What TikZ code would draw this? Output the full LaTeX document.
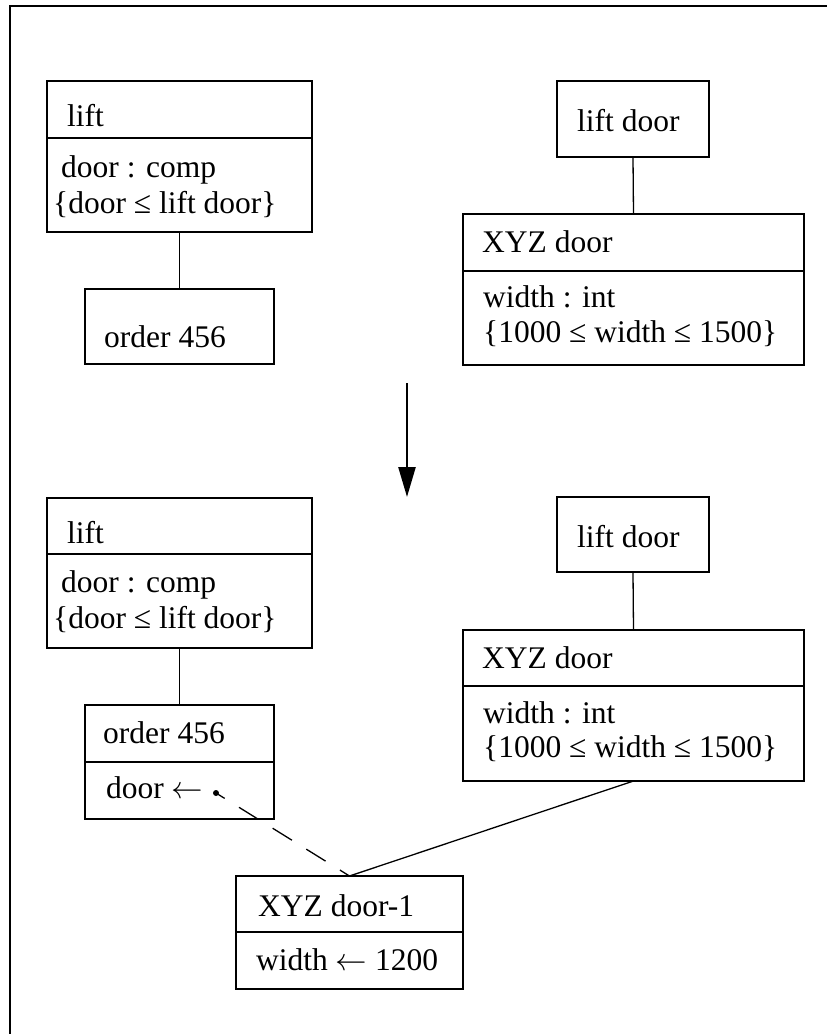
\RequirePackage{fix-cm}
\documentclass[tikz,border=0pt]{standalone}
\usepackage{fontspec}
\setmainfont{Liberation Serif}
\usetikzlibrary{arrows.meta}
\begin{document}
\begin{tikzpicture}[x=1pt,y=-1pt,
  box/.style={draw, line width=1.5pt, anchor=north west, inner sep=0pt, outer sep=0pt},
  txt/.style={anchor=base west, inner sep=0pt, font=\fontsize{31.5}{37}\selectfont},
  link/.style={line width=1.3pt},
  frameline/.style={line width=2pt},
  bigarrow/.style={line width=2.5pt, -{Triangle[length=30pt,width=17pt]}},
  dotnode/.style={circle, fill, inner sep=0pt, minimum size=6pt},
  dashlink/.style={line width=1.3pt, dash pattern=on 22.7pt off 16.9pt, dash phase=12.5pt}]
\useasboundingbox (0,0) rectangle (827,1034);
% frame
\coordinate (fBL) at (10,1040);
\coordinate (fTL) at (10,6);
\coordinate (fTR) at (830,6);
\draw[frameline] (fBL) -- (fTL) -- (fTR);

% ---------- top half ----------
\node[box, minimum width=265pt, minimum height=57pt] (lift1h) at (47,81) {};
\node[box, minimum width=265pt, minimum height=94pt] (lift1b) at (47,138) {};
\node[box, minimum width=189pt, minimum height=75pt] (ord1) at (85,289) {};
\node[box, minimum width=152pt, minimum height=76pt] (ldoor1) at (557,81) {};
\node[box, minimum width=341pt, minimum height=57pt] (xyz1h) at (463,214) {};
\node[box, minimum width=341pt, minimum height=94pt] (xyz1b) at (463,271) {};

\node[txt] (t1) at (67,126) {lift};
\node[txt] (t2) at (61,177) {door : comp};
\node[txt] (t3) at (53,213) {\{door ≤ lift door\}};
\node[txt] (t4) at (104,347) {order 456};
\node[txt] (t5) at (577,131) {lift door};
\node[txt] (t6) at (482,252) {XYZ door};
\node[txt] (t7) at (483,307) {width : int};
\node[txt] (t8) at (483,342) {\{1000 ≤ width ≤ 1500\}};

\draw[link] (lift1b.south) -- (ord1.north);
\draw[link] (ldoor1.south) -- (xyz1h.north);

% ---------- arrow ----------
\coordinate (arrS) at (407,383);
\coordinate (arrE) at (407,497);
\draw[bigarrow] (arrS) -- (arrE);

% ---------- bottom half ----------
\node[box, minimum width=265pt, minimum height=56pt] (lift2h) at (47,498) {};
\node[box, minimum width=265pt, minimum height=94pt] (lift2b) at (47,554) {};
\node[box, minimum width=189pt, minimum height=57pt] (ord2h) at (85,705) {};
\node[box, minimum width=189pt, minimum height=57pt] (ord2b) at (85,762) {};
\node[box, minimum width=152pt, minimum height=75pt] (ldoor2) at (557,497) {};
\node[box, minimum width=341pt, minimum height=56pt] (xyz2h) at (463,630) {};
\node[box, minimum width=341pt, minimum height=95pt] (xyz2b) at (463,686) {};
\node[box, minimum width=227pt, minimum height=56pt] (xyz3h) at (236,876) {};
\node[box, minimum width=227pt, minimum height=57pt] (xyz3b) at (236,932) {};

\node[txt] (u1) at (67,543) {lift};
\node[txt] (u2) at (61,592) {door : comp};
\node[txt] (u3) at (53,628) {\{door ≤ lift door\}};
\node[txt] (u4) at (103,743) {order 456};
\node[txt] (u5) at (106,798) {door $\leftarrow$};
\node[txt] (u6) at (577,547) {lift door};
\node[txt] (u7) at (482,668) {XYZ door};
\node[txt] (u8) at (483,723) {width : int};
\node[txt] (u9) at (483,757) {\{1000 ≤ width ≤ 1500\}};
\node[txt] (u10) at (258,916) {XYZ door-1};
\node[txt] (u11) at (256,970) {width $\leftarrow$ 1200};

\node[dotnode] (dot) at (216,793) {};

\draw[link] (lift2b.south) -- (ord2h.north);
\draw[link] (ldoor2.south) -- (xyz2h.north);
\draw[link] (xyz2b.south) -- (xyz3h.north);
\draw[dashlink] (dot.center) -- (xyz3h.north);
\end{tikzpicture}
\end{document}
